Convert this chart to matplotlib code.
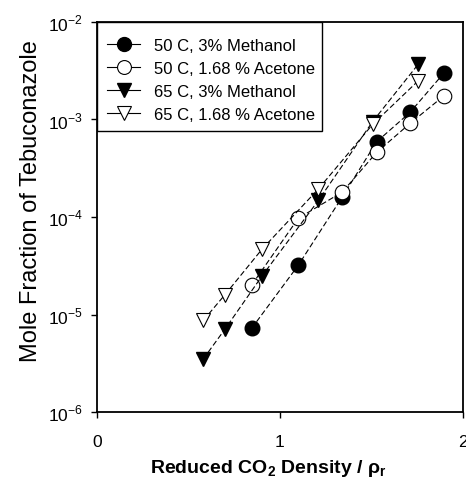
import matplotlib
matplotlib.use("Agg")
import matplotlib.pyplot as plt
from matplotlib.patches import Rectangle
from matplotlib.ticker import FixedLocator, NullLocator

plt.rcParams['font.family'] = ['Liberation Sans', 'DejaVu Sans']
plt.rcParams['mathtext.fontset'] = 'custom'
plt.rcParams['mathtext.rm'] = 'Liberation Sans'
plt.rcParams['mathtext.bf'] = 'Liberation Sans:bold'

# reduced density values
x_50 = [0.845, 1.10, 1.34, 1.528, 1.71, 1.896]
x_65 = [0.581, 0.70, 0.903, 1.21, 1.506, 1.756]

# mole fractions
y_50_meoh = [7.2e-6, 3.2e-5, 1.6e-4, 5.9e-4, 1.18e-3, 3.0e-3]
y_50_acet = [2.0e-5, 9.7e-5, 1.8e-4, 4.6e-4, 9.1e-4, 1.75e-3]
y_65_meoh = [3.5e-6, 7.1e-6, 2.5e-5, 1.48e-4, 9.5e-4, 3.7e-3]
y_65_acet = [8.7e-6, 1.6e-5, 4.7e-5, 1.94e-4, 8.9e-4, 2.5e-3]

labels = ["50 C, 3% Methanol", "50 C, 1.68 % Acetone",
          "65 C, 3% Methanol", "65 C, 1.68 % Acetone"]

fig = plt.figure(figsize=(4.66, 4.89), dpi=100)
ax = fig.add_axes([0.208, 0.1554, 0.7856, 0.7976])

dash = (0, (5, 2.5))
ms = 10.5
ax.plot(x_50, y_50_meoh, linestyle=dash, color="k", lw=0.8, marker="o",
        ms=ms, mfc="k", mec="k", label=labels[0])
ax.plot(x_50, y_50_acet, linestyle=dash, color="k", lw=0.8, marker="o",
        ms=ms, mfc="white", mec="k", mew=0.8, label=labels[1])
ax.plot(x_65, y_65_meoh, linestyle=dash, color="k", lw=0.8, marker="v",
        ms=ms, mfc="k", mec="k", label=labels[2])
ax.plot(x_65, y_65_acet, linestyle=dash, color="k", lw=0.8, marker="v",
        ms=ms, mfc="white", mec="k", mew=0.8, label=labels[3])

ax.set_yscale("log")
ax.set_xlim(0, 2)
ax.set_ylim(1e-6, 1e-2)
ax.xaxis.set_major_locator(FixedLocator([0, 1, 2]))
ax.set_xticklabels(["0", "1", "2"])
ax.yaxis.set_major_locator(FixedLocator([1e-6, 1e-5, 1e-4, 1e-3, 1e-2]))
ax.yaxis.set_minor_locator(NullLocator())
ax.set_yticklabels([r"10$^{-6}$", r"10$^{-5}$", r"10$^{-4}$", r"10$^{-3}$", r"10$^{-2}$"])
ax.tick_params(direction="out", length=4, width=1, labelsize=12.5)
ax.tick_params(axis="x", pad=12)
ax.tick_params(axis="y", pad=6)

for s in ax.spines.values():
    s.set_linewidth(1.3)

ax.set_ylabel("Mole Fraction of Tebuconazole", fontsize=17)
ax.yaxis.set_label_coords(-0.15, 0.544)
ax.set_xlabel("Reduced CO$_\\mathbf{2}$ Density / \u03c1$_\\mathbf{r}$",
              fontsize=14, fontweight="bold")
ax.xaxis.set_label_coords(0.467, -0.115)

# legend box drawn separately so its padding can be uneven like the original
box = Rectangle((0, 0.7205), 0.615, 0.2795, transform=ax.transAxes,
                facecolor="white", edgecolor="k", lw=1.0, zorder=4.9)
ax.add_patch(box)
leg = ax.legend(loc="upper left", bbox_to_anchor=(0, 0.985), fontsize=12,
                frameon=False, borderaxespad=0, handlelength=2.0,
                handletextpad=0.8, borderpad=0.6, labelspacing=0.48)
for h in leg.get_lines():
    h.set_linestyle("-")
    h.set_markersize(10)

fig.savefig("out.png", dpi=100)
